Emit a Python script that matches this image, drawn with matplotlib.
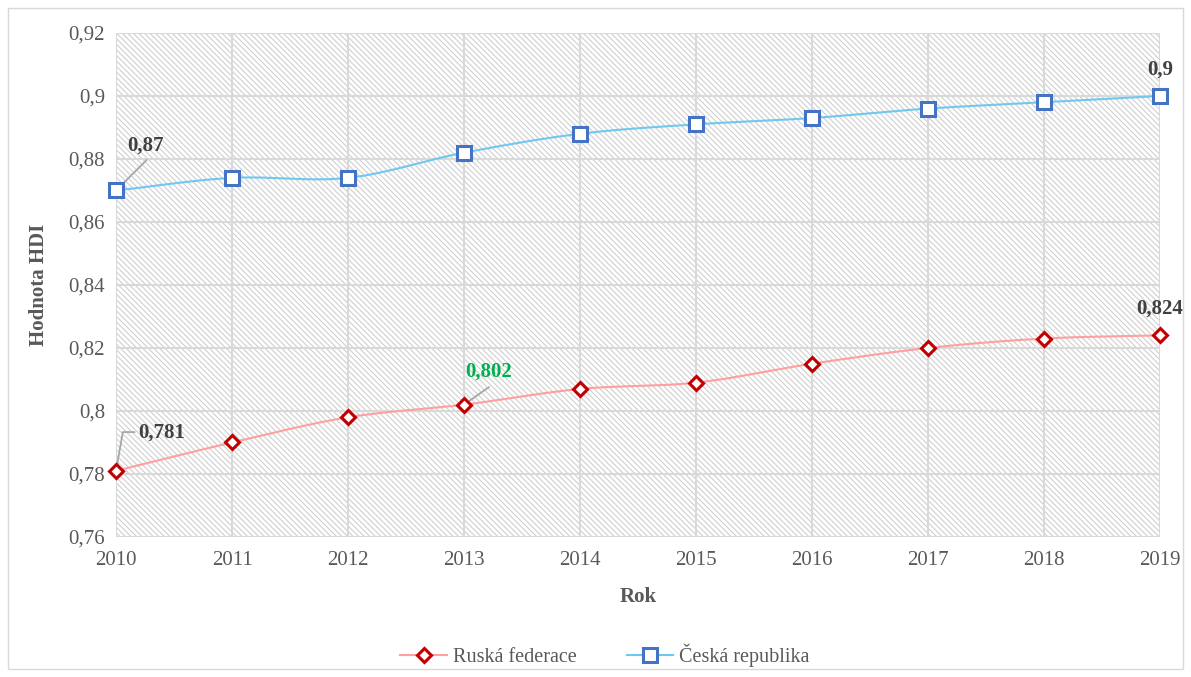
import matplotlib.pyplot as plt
import numpy as np
from matplotlib.patches import Rectangle
from matplotlib.ticker import FuncFormatter

plt.rcParams['font.family'] = ['Liberation Serif', 'DejaVu Serif']

years = [2010, 2011, 2012, 2013, 2014, 2015, 2016, 2017, 2018, 2019]
rusko = [0.781, 0.790, 0.798, 0.802, 0.807, 0.809, 0.815, 0.820, 0.823, 0.824]
cesko = [0.870, 0.874, 0.874, 0.882, 0.888, 0.891, 0.893, 0.896, 0.898, 0.900]


def smooth(x, y, n=30):
    # catmull-rom like excel "smoothed line"
    x = np.asarray(x, float)
    y = np.asarray(y, float)
    px = np.concatenate([[2 * x[0] - x[1]], x, [2 * x[-1] - x[-2]]])
    py = np.concatenate([[2 * y[0] - y[1]], y, [2 * y[-1] - y[-2]]])
    xs, ys = [], []
    t = np.linspace(0, 1, n)
    for i in range(1, len(px) - 2):
        for p, out in ((px, xs), (py, ys)):
            p0, p1, p2, p3 = p[i - 1], p[i], p[i + 1], p[i + 2]
            out.extend(0.5 * ((2 * p1) + (-p0 + p2) * t
                              + (2 * p0 - 5 * p1 + 4 * p2 - p3) * t ** 2
                              + (-p0 + 3 * p1 - 3 * p2 + p3) * t ** 3))
    return xs, ys


fig = plt.figure(figsize=(11.91, 6.77), dpi=100)
fig.patches.append(Rectangle((0.007, 0.012), 0.986, 0.976, transform=fig.transFigure,
                             fill=False, edgecolor='#d9d9d9', linewidth=1))
ax = fig.add_axes([0.0974, 0.2068, 0.8766, 0.7445])

plt.rcParams['hatch.linewidth'] = 0.8
ax.add_patch(Rectangle((0, 0), 1, 1, transform=ax.transAxes, facecolor='white',
                       edgecolor='#cfcfcf', hatch='\\\\\\\\\\\\', linewidth=0, zorder=0))

ax.set_xlim(2010, 2019)
ax.set_ylim(0.76, 0.92)
ax.set_xticks(years)
ax.set_yticks(np.arange(0.76, 0.9201, 0.02))
ax.yaxis.set_major_formatter(FuncFormatter(lambda v, p: ('%g' % round(v, 3)).replace('.', ',')))
ax.grid(True, color='#d9d9d9', linewidth=1.5, zorder=1)
ax.set_axisbelow(False)
for s in ax.spines.values():
    s.set_visible(False)
ax.tick_params(length=0, labelsize=15, labelcolor='#595959', pad=8)
ax.tick_params(axis='x', pad=10)

rx, ry = smooth(years, rusko)
cx, cy = smooth(years, cesko)
ax.plot(rx, ry, color='#ff9f9f', linewidth=1.5, zorder=3)
ax.plot(cx, cy, color='#70c8ee', linewidth=1.5, zorder=3)
ax.plot(years, rusko, linestyle='none', marker='D', markersize=7, markerfacecolor='white',
        markeredgecolor='#c00000', markeredgewidth=2.2, zorder=4, clip_on=False)
ax.plot(years, cesko, linestyle='none', marker='s', markersize=9.5, markerfacecolor='white',
        markeredgecolor='#4472c4', markeredgewidth=2.2, zorder=4, clip_on=False)

# legend handles
h1, = ax.plot([], [], color='#ff9f9f', linewidth=1.5, marker='D', markersize=7,
              markerfacecolor='white', markeredgecolor='#c00000', markeredgewidth=2.2)
h2, = ax.plot([], [], color='#70c8ee', linewidth=1.5, marker='s', markersize=9.5,
              markerfacecolor='white', markeredgecolor='#4472c4', markeredgewidth=2.2)
fig.legend([h1, h2], ['Ruská federace', 'Česká republika'], loc='center',
           bbox_to_anchor=(0.508, 0.032), ncol=2, frameon=False, fontsize=14.5,
           labelcolor='#595959', handlelength=2.3, columnspacing=2.5, handletextpad=0.3)

ax.set_xlabel('Rok', fontsize=15, fontweight='bold', color='#595959', labelpad=12)
ax.set_ylabel('Hodnota HDI', fontsize=15, fontweight='bold', color='#595959', labelpad=14)

lab = dict(fontsize=15, fontweight='bold', color='#404040')
lead = dict(arrowstyle='-', color='#a6a6a6', lw=1.3, shrinkA=0, shrinkB=5)

ax.text(2010.1, 0.8844, '0,87', ha='left', va='center', **lab)
ax.annotate('', xy=(years[0], cesko[0]), xytext=(2010.265, 0.8797), arrowprops=lead)

ax.text(2010.19, 0.7930, '0,781', ha='left', va='center', **lab)
ax.annotate('', xy=(years[0], rusko[0]), xytext=(2010.16, 0.7933),
            arrowprops=dict(lead, connectionstyle='angle,angleA=0,angleB=80,rad=0'))

ax.text(2013.01, 0.8124, '0,802', ha='left', va='center', fontsize=15, fontweight='bold',
        color='#00b050')
ax.annotate('', xy=(years[3], rusko[3]), xytext=(2013.215, 0.8076), arrowprops=lead)

ax.annotate('0,9', xy=(years[-1], cesko[-1]), xytext=(0, 12), textcoords='offset points',
            ha='center', va='bottom', **lab)
ax.annotate('0,824', xy=(years[-1], rusko[-1]), xytext=(0, 12), textcoords='offset points',
            ha='center', va='bottom', **lab)

fig.savefig('out.png', dpi=100)
